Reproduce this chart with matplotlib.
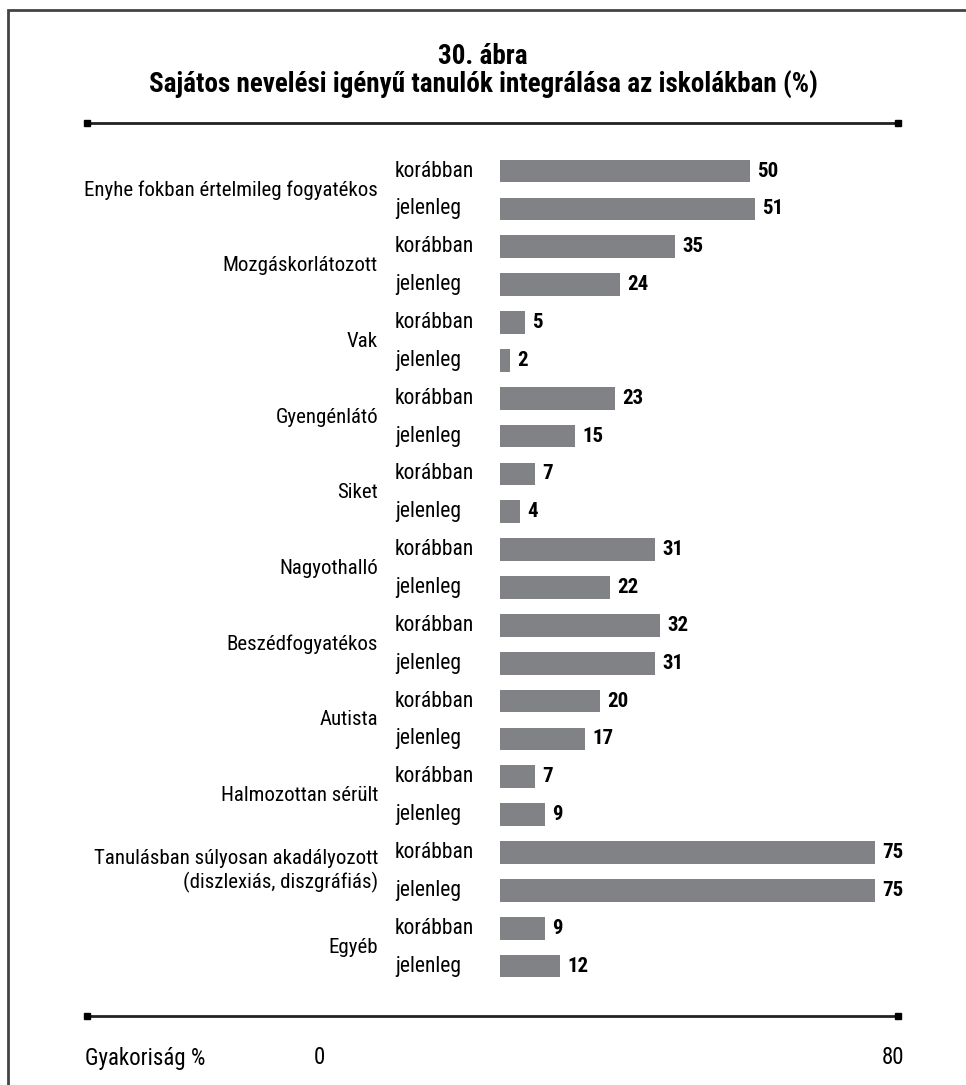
import matplotlib
matplotlib.use("Agg")
import matplotlib.pyplot as plt
from matplotlib.patches import Rectangle
from matplotlib.lines import Line2D

# adatok
categories = [
    "Enyhe fokban értelmileg fogyatékos",
    "Mozgáskorlátozott",
    "Vak",
    "Gyengénlátó",
    "Siket",
    "Nagyothalló",
    "Beszédfogyatékos",
    "Autista",
    "Halmozottan sérült",
    "Tanulásban súlyosan akadályozott\n(diszlexiás, diszgráfiás)",
    "Egyéb",
]
periods = ["korábban", "jelenleg"]
earlier = [50, 35, 5, 23, 7, 31, 32, 20, 7, 75, 9]
current = [51, 24, 2, 15, 4, 22, 31, 17, 9, 75, 12]

plt.rcParams["font.family"] = ["Roboto Condensed", "DejaVu Sans"]

W, H = 966, 1085
fig = plt.figure(figsize=(W / 100, H / 100), dpi=100)

def fx(px):
    return px / W

def fy(py):
    return 1 - py / H

# keret
fig.add_artist(Rectangle((fx(8), -0.05), 1.2, fy(10) + 0.05, transform=fig.transFigure,
                         fill=False, edgecolor="#444444", linewidth=2))

ax = fig.add_axes([fx(500), fy(1016), fx(900) - fx(500), fy(123) - fy(1016)])

values = []
labels = []
for e, c in zip(earlier, current):
    values += [e, c]
    labels += periods
pos = list(range(len(values)))

ax.barh(pos, values, height=0.6, color="#818286")
for p, v in zip(pos, values):
    ax.annotate(str(v), (v, p), xytext=(5, 0), textcoords="offset points",
                va="center", ha="left", fontsize=15, fontweight="bold")
    ax.text(-0.263 * 80, p, labels[p], ha="left", va="center", fontsize=15.5)

for i, cat in enumerate(categories):
    ax.text(-0.305 * 80, 2 * i + 0.5, cat, ha="right", va="center", fontsize=15,
            multialignment="right", linespacing=1.25)

ax.set_xlim(0, 80)
ax.set_ylim(len(values) - 1 + 1.32, -1.268)
ax.axis("off")

# vízszintes vonalak
for ly in (123, 1016):
    fig.add_artist(Line2D([fx(87), fx(898)], [fy(ly), fy(ly)], transform=fig.transFigure,
                          color="#222222", linewidth=2))
    fig.add_artist(Line2D([fx(87), fx(898)], [fy(ly), fy(ly)], transform=fig.transFigure,
                          linestyle="none", marker="s", markersize=5, color="black"))

fig.text(0.5, fy(57), "30. ábra", ha="center", va="center", fontsize=19.5, fontweight="bold")
fig.text(0.5, fy(85), "Sajátos nevelési igényű tanulók integrálása az iskolákban (%)",
         ha="center", va="center", fontsize=19.5, fontweight="bold")

fig.text(fx(85), fy(1058), "Gyakoriság %", ha="left", va="center", fontsize=16.5)
fig.text(fx(319), fy(1058), "0", ha="center", va="center", fontsize=16.5)
fig.text(fx(904), fy(1058), "80", ha="right", va="center", fontsize=16.5)

fig.savefig("out.png", dpi=100)
